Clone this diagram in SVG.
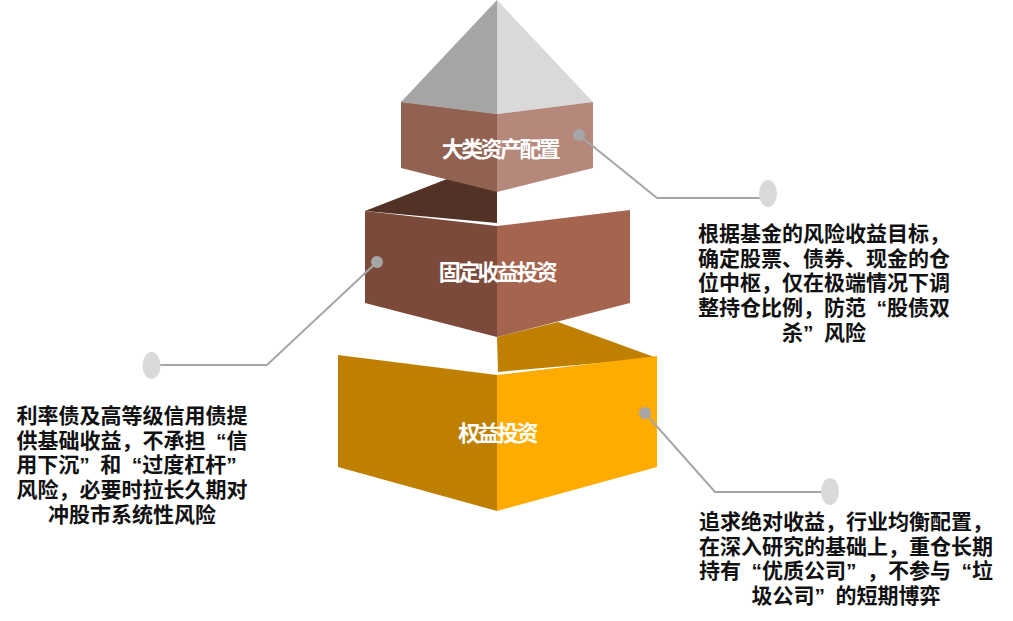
<svg xmlns="http://www.w3.org/2000/svg" width="1013" height="621" viewBox="0 0 1013 621">
<style>
text{font-family:"Liberation Sans","Noto Sans CJK SC",sans-serif;font-weight:700}
.l{font-size:22px;fill:#fff;text-anchor:middle;letter-spacing:-2.6px}
.d{font-size:21px;fill:#111;text-anchor:middle}
.c{fill:none;stroke:#a6a6a6;stroke-width:2}
.p{fill:#a6a6a6}
.e{fill:#d9d9d9}
</style>
<rect width="1013" height="621" fill="#fff"/>
<g id="layer-equity">
<polygon points="497,337 558,322 657,358 498,372" fill="#bf8000"/>
<polygon points="338,355 497,375 497,511 338,467" fill="#bf8000"/>
<polygon points="497,375 657,356 657,467 497,511" fill="#ffab00"/>
<text class="l" x="497" y="441">权益投资</text>
</g>
<g id="layer-fixed">
<polygon points="365,211 447,179 497,191 497,223" fill="#523127"/>
<polygon points="365,211 497,226 497,337 365,303" fill="#7b4a3b"/>
<polygon points="497,226 630,210 630,303 497,337" fill="#a5644e"/>
<text class="l" x="497" y="280">固定收益投资</text>
</g>
<g id="layer-top">
<polygon points="497,0 401,102 497,114" fill="#a5a5a5"/>
<polygon points="497,0 593,102 497,114" fill="#d9d9d9"/>
<polygon points="401,102 497,114 497,192 401,168" fill="#916152"/>
<polygon points="497,114 593,102 593,168 497,192" fill="#b5887b"/>
<text class="l" x="500" y="157">大类资产配置</text>
</g>
<g id="connectors">
<polyline class="c" points="579,135 657,198 761,198"/>
<polyline class="c" points="377,262 267,365 152,365"/>
<polyline class="c" points="645,413 715,492 822,492"/>
</g>
<g id="callout-top">
<circle class="p" cx="579" cy="135" r="6"/>
<ellipse class="e" cx="768" cy="193.500" rx="9" ry="13.500"/>
<text class="d" x="824" y="241">根据基金的风险收益目标，</text>
<text class="d" x="824" y="266">确定股票、债券、现金的仓</text>
<text class="d" x="824" y="290">位中枢，仅在极端情况下调</text>
<text class="d" x="824" y="315">整持仓比例，防范<tspan dx="10.500">“</tspan>股债双</text>
<text class="d" x="824" y="340">杀”<tspan dx="10.500">风</tspan>险</text>
</g>
<g id="callout-fixed">
<circle class="p" cx="377" cy="262" r="6"/>
<ellipse class="e" cx="151.500" cy="365.500" rx="9" ry="13.500"/>
<text class="d" x="132" y="423">利率债及高等级信用债提</text>
<text class="d" x="132" y="448">供基础收益，不承担<tspan dx="10.500">“</tspan>信</text>
<text class="d" x="126.500" y="472">用下沉”<tspan dx="10.500">和</tspan><tspan dx="10.500">“</tspan>过度杠杆”</text>
<text class="d" x="132" y="497">风险，必要时拉长久期对</text>
<text class="d" x="132" y="522">冲股市系统性风险</text>
</g>
<g id="callout-equity">
<circle class="p" cx="645" cy="413" r="6"/>
<ellipse class="e" cx="830" cy="491.500" rx="9" ry="13.500"/>
<text class="d" x="846" y="529">追求绝对收益，行业均衡配置，</text>
<text class="d" x="846" y="554">在深入研究的基础上，重仓长期</text>
<text class="d" x="846" y="578">持有<tspan dx="10.500">“</tspan>优质公司”<tspan dx="10.500">，</tspan>不参与<tspan dx="10.500">“</tspan>垃</text>
<text class="d" x="846" y="603">圾公司”<tspan dx="10.500">的</tspan>短期博弈</text>
</g>
</svg>
